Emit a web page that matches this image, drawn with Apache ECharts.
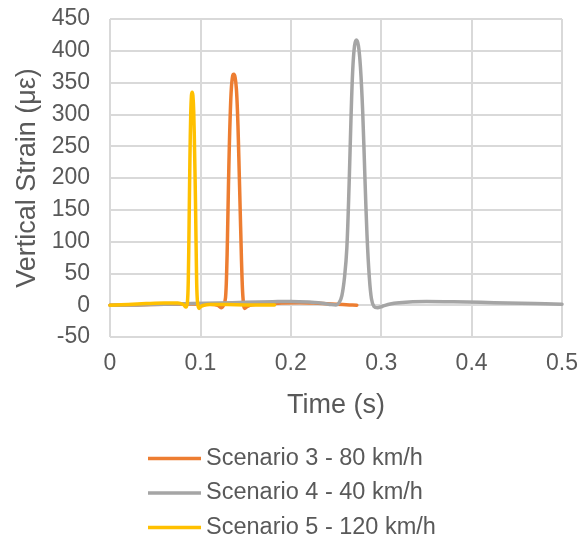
<!DOCTYPE html>
<html>
<head>
<meta charset="utf-8">
<script src="https://cdn.jsdelivr.net/npm/echarts@6/dist/echarts.min.js"></script>
<style>
  html, body { margin: 0; padding: 0; background: #fff; }
  #chart { width: 581px; height: 537px; }
</style>
</head>
<body>
<div id="chart"></div>
<script>
// Time axis ticks (s) and strain axis ticks (με)
const timeTicks = [0, 0.1, 0.2, 0.3, 0.4, 0.5];
const strainTicks = [-50, 0, 50, 100, 150, 200, 250, 300, 350, 400, 450];

// Scenario 3 - 80 km/h
const s3Time = [0, 0.03, 0.06, 0.09, 0.11, 0.119, 0.1234, 0.1262, 0.1278, 0.1290, 0.1300, 0.1310, 0.1320, 0.1330, 0.1342, 0.1356, 0.1370, 0.1384, 0.1398, 0.1410, 0.1420, 0.1430, 0.1440, 0.1450, 0.1460, 0.1472, 0.1490, 0.152, 0.157, 0.17, 0.19, 0.21, 0.23, 0.25, 0.265, 0.273];
const s3Strain = [0, 0.5, 1.5, 2, 1.5, 0, -4, 2, 12, 50, 110, 185, 250, 300, 340, 360, 363, 358, 340, 305, 260, 205, 150, 95, 45, 10, -5, -2, 0.5, 2, 3.5, 4, 3, 1.5, 0.5, 0];

// Scenario 4 - 40 km/h
const s4Time = [0, 0.03, 0.06, 0.09, 0.12, 0.15, 0.18, 0.2, 0.22, 0.235, 0.245, 0.250, 0.2535, 0.2565, 0.2595, 0.2620, 0.2645, 0.2665, 0.2685, 0.2705, 0.2726, 0.2748, 0.2770, 0.2795, 0.2820, 0.2843, 0.2868, 0.2892, 0.2920, 0.2960, 0.301, 0.31, 0.32, 0.335, 0.35, 0.38, 0.41, 0.44, 0.47, 0.5];
const s4Strain = [0, 0.5, 1.5, 2.5, 3.5, 4.5, 5.5, 6, 5, 3, 1, 0.5, 4, 15, 45, 90, 190, 290, 370, 408, 417, 408, 375, 305, 200, 110, 45, 10, -2, -4, -2, 2, 4, 5.5, 6, 5.5, 4.5, 3.5, 2.5, 1.5];

// Scenario 5 - 120 km/h
const s5Time = [0, 0.02, 0.04, 0.06, 0.075, 0.081, 0.0840, 0.0856, 0.0866, 0.0875, 0.0884, 0.0893, 0.0901, 0.0909, 0.0917, 0.0926, 0.0936, 0.0946, 0.0956, 0.0966, 0.0985, 0.1005, 0.104, 0.11, 0.13, 0.15, 0.17, 0.182];
const s5Strain = [0, 1, 2.5, 3.5, 3.5, 1, -3, 4, 40, 130, 230, 300, 330, 335, 330, 305, 240, 160, 60, 8, -5, -2, 0, 1, 1, 0.5, 0.5, 0.5];

const seriesNames = ['Scenario 3 - 80 km/h', 'Scenario 4 - 40 km/h', 'Scenario 5 - 120 km/h'];
const seriesColors = ['#ED7D31', '#A5A5A5', '#FFC000'];

const pairs = (xs, ys) => xs.map((x, i) => [x, ys[i]]);
const seriesData = [pairs(s3Time, s3Strain), pairs(s4Time, s4Strain), pairs(s5Time, s5Strain)];

const FONT = "'Liberation Sans', Arial, sans-serif";
const TEXT = '#595959';
const GRID = '#D9D9D9';

const chart = echarts.init(document.getElementById('chart'), null, { renderer: 'canvas' });
chart.setOption({
  animation: false,
  backgroundColor: '#ffffff',
  grid: { left: 110, right: 18.5, top: 19, bottom: 200, containLabel: false },
  xAxis: {
    type: 'value',
    min: timeTicks[0],
    max: timeTicks[timeTicks.length - 1],
    interval: 0.1,
    name: 'Time (s)',
    nameLocation: 'middle',
    nameGap: 55,
    nameTextStyle: { color: TEXT, fontSize: 27, fontFamily: FONT },
    axisLine: { show: false },
    axisTick: { show: false },
    axisLabel: { color: TEXT, fontSize: 23, fontFamily: FONT, margin: 15 },
    splitLine: { show: true, lineStyle: { color: GRID, width: 2 } }
  },
  yAxis: {
    type: 'value',
    min: strainTicks[0],
    max: strainTicks[strainTicks.length - 1],
    interval: 50,
    name: 'Vertical Strain (με)',
    nameLocation: 'middle',
    nameGap: 64,
    nameTextStyle: { color: TEXT, fontSize: 27, fontFamily: FONT },
    axisLine: { show: false },
    axisTick: { show: false },
    axisLabel: { color: TEXT, fontSize: 23, fontFamily: FONT, margin: 20 },
    splitLine: { show: true, lineStyle: { color: GRID, width: 2 } }
  },
  legend: {
    orient: 'vertical',
    left: 148,
    top: 446.5,
    width: 330,
    height: 110,
    padding: 0,
    icon: 'rect',
    itemWidth: 53,
    itemHeight: 3.5,
    itemGap: 10.5,
    textStyle: { color: TEXT, fontSize: 23.5, fontFamily: FONT, lineHeight: 24 },
    data: seriesNames
  },
  series: seriesNames.map((name, i) => ({
    name,
    type: 'line',
    data: seriesData[i],
    showSymbol: false,
    symbol: 'none',
    smooth: 0.35,
    color: seriesColors[i],
    lineStyle: { color: seriesColors[i], width: 3.5, join: 'round', cap: 'round' },
    z: 2 + i
  }))
});
</script>
</body>
</html>
